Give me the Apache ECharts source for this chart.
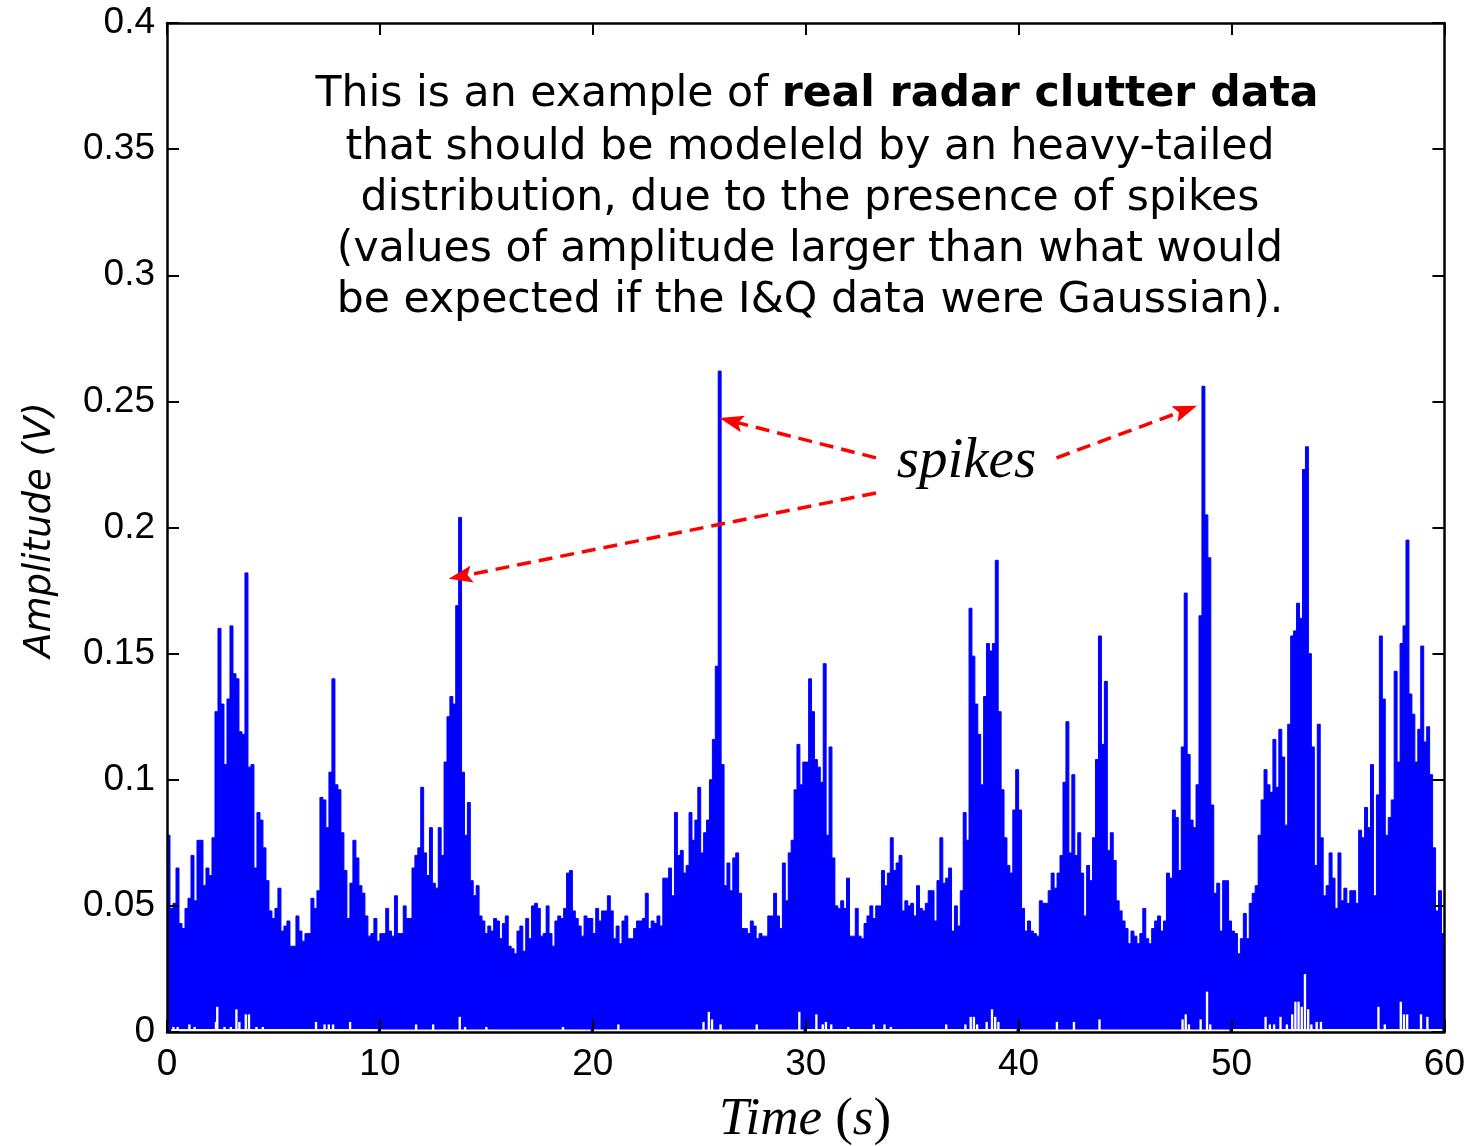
<!DOCTYPE html>
<html>
<head>
<meta charset="utf-8">
<script src="https://cdn.jsdelivr.net/npm/echarts@6/dist/echarts.min.js"></script>
<style>
  html, body { margin: 0; padding: 0; background: #ffffff; }
  #chart { width: 1468px; height: 1146px; }
</style>
</head>
<body>
<div id="chart"></div>
<script>
// Radar clutter amplitude (V): per-column peak amplitude, one array per 10 s span
const peaks0to10 = [0.078,0.049,0.051,0.065,0.043,0.041,0.049,0.053,0.070,0.052,0.076,0.076,0.058,0.065,0.062,0.077,0.127,0.160,0.130,0.106,0.132,0.161,0.142,0.140,0.119,0.118,0.182,0.105,0.106,0.065,0.087,0.084,0.073,0.060,0.048,0.045,0.049,0.057,0.040,0.042,0.044,0.034,0.034,0.046,0.040,0.036,0.039,0.039,0.053,0.049,0.056,0.093,0.092,0.081,0.103,0.140,0.098,0.096,0.079,0.064,0.045,0.059,0.076,0.069,0.058,0.055,0.046,0.038,0.039,0.045,0.036];
const peaks10to20 = [0.039,0.039,0.049,0.040,0.038,0.054,0.039,0.039,0.050,0.045,0.045,0.065,0.070,0.073,0.097,0.071,0.062,0.081,0.059,0.057,0.081,0.070,0.107,0.125,0.133,0.130,0.169,0.204,0.103,0.078,0.091,0.060,0.054,0.058,0.046,0.044,0.039,0.042,0.040,0.045,0.044,0.037,0.043,0.046,0.034,0.033,0.031,0.040,0.042,0.032,0.045,0.037,0.050,0.051,0.049,0.038,0.039,0.050,0.039,0.034,0.044,0.046,0.045,0.049,0.063,0.064,0.048,0.045,0.042,0.038,0.046,0.045,0.045];
const peaks20to30 = [0.039,0.049,0.044,0.048,0.048,0.054,0.048,0.037,0.042,0.035,0.044,0.046,0.037,0.037,0.041,0.044,0.044,0.045,0.055,0.041,0.044,0.043,0.046,0.042,0.061,0.061,0.065,0.054,0.087,0.070,0.072,0.063,0.066,0.087,0.076,0.084,0.097,0.071,0.079,0.084,0.100,0.116,0.145,0.262,0.106,0.058,0.067,0.056,0.069,0.071,0.055,0.041,0.041,0.039,0.044,0.042,0.037,0.039,0.038,0.038,0.046,0.046,0.055,0.046,0.041,0.067,0.052,0.071,0.076,0.096,0.114,0.098,0.107];
const peaks30to40 = [0.107,0.140,0.127,0.108,0.105,0.099,0.146,0.078,0.113,0.069,0.050,0.049,0.052,0.049,0.061,0.038,0.038,0.049,0.038,0.037,0.043,0.046,0.050,0.045,0.050,0.050,0.064,0.058,0.063,0.077,0.064,0.067,0.070,0.048,0.052,0.050,0.051,0.046,0.058,0.049,0.048,0.051,0.056,0.056,0.044,0.060,0.077,0.059,0.061,0.065,0.040,0.050,0.042,0.056,0.087,0.076,0.168,0.149,0.130,0.118,0.098,0.133,0.154,0.151,0.154,0.187,0.127,0.096,0.077,0.066,0.063,0.088,0.104];
const peaks40to50 = [0.088,0.049,0.040,0.044,0.040,0.039,0.038,0.052,0.051,0.051,0.056,0.063,0.057,0.063,0.070,0.099,0.123,0.071,0.102,0.070,0.079,0.063,0.046,0.066,0.060,0.077,0.108,0.157,0.114,0.139,0.072,0.079,0.068,0.052,0.048,0.044,0.041,0.035,0.040,0.038,0.035,0.039,0.049,0.037,0.035,0.041,0.044,0.046,0.040,0.044,0.063,0.061,0.088,0.085,0.064,0.113,0.174,0.110,0.084,0.081,0.098,0.165,0.256,0.205,0.188,0.090,0.055,0.059,0.040,0.060,0.060,0.044];
const peaks50to60 = [0.040,0.039,0.031,0.037,0.047,0.037,0.051,0.055,0.058,0.078,0.092,0.104,0.098,0.095,0.116,0.097,0.120,0.109,0.082,0.122,0.157,0.159,0.170,0.164,0.223,0.232,0.150,0.113,0.066,0.122,0.077,0.054,0.058,0.071,0.061,0.049,0.071,0.052,0.057,0.051,0.056,0.056,0.051,0.080,0.077,0.089,0.081,0.106,0.054,0.094,0.157,0.132,0.078,0.085,0.092,0.143,0.107,0.154,0.161,0.195,0.134,0.126,0.107,0.120,0.153,0.115,0.121,0.102,0.073,0.048,0.056,0.039];
const peakSegments = [peaks0to10, peaks10to20, peaks20to30, peaks30to40, peaks40to50, peaks50to60];

// Minimum amplitude within a column where it clearly lifts off zero: [time s, volts]
const floorNotches = [
  [0.3,0.002],[0.5,0.002],[1.05,0.003],[1.3,0.002],[2.3,0.004],[2.36,0.010],[2.7,0.002],[3.0,0.002],
  [3.26,0.009],[3.4,0.004],[3.7,0.007],[3.85,0.007],[4.2,0.002],[4.5,0.002],[7.0,0.004],[7.4,0.003],
  [7.6,0.003],[7.8,0.003],[8.6,0.004],[11.7,0.003],[12.5,0.003],[13.75,0.006],[14.0,0.002],[15.0,0.002],
  [18.6,0.002],[21.2,0.003],[25.2,0.004],[25.45,0.008],[25.6,0.005],[26.0,0.003],[27.7,0.003],[29.7,0.008],
  [30.5,0.007],[30.8,0.003],[30.95,0.004],[31.2,0.003],[32.0,0.002],[33.2,0.003],[33.7,0.003],[34.0,0.002],
  [36.6,0.003],[37.5,0.003],[37.75,0.006],[37.9,0.006],[38.05,0.003],[38.5,0.004],[38.75,0.009],[38.9,0.006],
  [39.05,0.004],[41.8,0.004],[42.6,0.004],[43.8,0.005],[47.7,0.005],[47.85,0.007],[48.0,0.003],[48.55,0.005],
  [48.85,0.016],[49.0,0.003],[51.6,0.006],[51.8,0.003],[52.0,0.003],[52.3,0.006],[52.6,0.003],[52.85,0.007],
  [53.0,0.012],[53.15,0.012],[53.3,0.010],[53.45,0.023],[53.6,0.009],[53.75,0.003],[54.0,0.004],[54.2,0.004],
  [56.9,0.010],[57.2,0.003],[57.95,0.012],[58.1,0.007],[58.25,0.007],[58.9,0.007],[59.2,0.006]
];
// Thin band where the signal rarely reaches zero: [start s, end s, volts]
const floorBand = [[0.2,9.9,0.0012],[10.0,19.9,0.0010],[20.0,29.9,0.0010],[30.0,39.9,0.0012],[40.0,49.9,0.0010],[50.0,59.9,0.0012]];

const xTickLabels = ['0','10','20','30','40','50','60'];
const yTickLabels = ['0','0.05','0.1','0.15','0.2','0.25','0.3','0.35','0.4'];

// Annotation: arrows from the "spikes" label to the three largest spikes, in data coordinates
const spikeArrows = [
  [[33.30, 0.2276], [26.50, 0.2422]],
  [[33.30, 0.2137], [13.78, 0.1806]],
  [[41.78, 0.2276], [47.85, 0.2466]]
];
const spikeLabelAt = [37.55, 0.2258];

const noteLines = [
  'that should be modeleld by an heavy-tailed',
  'distribution, due to the presence of spikes',
  '(values of amplitude larger than what would',
  'be expected if the I&Q data were Gaussian).'
];

// Build the stepped envelope: each column spans its share of the 10 s window
const envelope = [];
peakSegments.forEach((seg, k) => {
  const dt = 10 / seg.length;
  seg.forEach((v, i) => envelope.push([k * 10 + i * dt, v]));
});
envelope.push([60, envelope[envelope.length - 1][1]]);

const floorRects = floorBand.map(b => [b[0], b[1], b[2]])
  .concat(floorNotches.map(n => [n[0] - 0.055, n[0] + 0.055, n[1]]));

const chart = echarts.init(document.getElementById('chart'), null, { renderer: 'canvas' });

const axisLabelStyle = { color: '#000', fontFamily: 'Liberation Sans', fontSize: 37 };
const frameLine = { show: true, onZero: false, lineStyle: { color: '#000', width: 2.5 } };
const frameTick = { show: true, inside: true, length: 12, lineStyle: { color: '#000', width: 2 } };

chart.setOption({
  animation: false,
  backgroundColor: '#ffffff',
  grid: { left: 167, right: 20, top: 23, bottom: 114 },
  xAxis: [
    {
      type: 'value', position: 'bottom', min: 0, max: 60, interval: 10, z: 10,
      axisLine: frameLine, axisTick: frameTick, splitLine: { show: false },
      axisLabel: Object.assign({ margin: 14, formatter: v => xTickLabels[Math.round(v / 10)] }, axisLabelStyle)
    },
    {
      type: 'value', position: 'top', min: 0, max: 60, interval: 10, z: 10,
      axisLine: frameLine, axisTick: frameTick, splitLine: { show: false }, axisLabel: { show: false }
    }
  ],
  yAxis: [
    {
      type: 'value', position: 'left', min: 0, max: 0.4, interval: 0.05, z: 10,
      axisLine: frameLine, axisTick: frameTick, splitLine: { show: false },
      axisLabel: Object.assign({ margin: 12, formatter: v => yTickLabels[Math.round(v / 0.05)] }, axisLabelStyle)
    },
    {
      type: 'value', position: 'right', min: 0, max: 0.4, interval: 0.05, z: 10,
      axisLine: frameLine, axisTick: frameTick, splitLine: { show: false }, axisLabel: { show: false }
    }
  ],
  series: [
    {
      name: 'Amplitude', type: 'line', step: 'end', data: envelope,
      symbol: 'none', sampling: null, z: 2,
      lineStyle: { color: '#0000ff', width: 1 },
      areaStyle: { color: '#0000ff', opacity: 1 },
      markLine: {
        silent: true, animation: false,
        symbol: ['none', 'path://M5,0 L10,15 L5,12 L0,15 Z'],
        symbolSize: [17, 24],
        label: { show: false },
        lineStyle: { color: '#ff0000', width: 3.5, type: [14, 8] },
        data: spikeArrows.map(a => [{ coord: a[0] }, { coord: a[1] }])
      },
      markPoint: {
        silent: true, animation: false,
        symbol: 'circle', symbolSize: 0,
        data: [{ name: 'spikes', coord: spikeLabelAt }],
        label: {
          show: true, position: 'inside', formatter: '{b}', color: '#000',
          fontFamily: 'Liberation Serif', fontStyle: 'italic', fontSize: 57
        }
      }
    },
    {
      name: 'Floor', type: 'custom', z: 3, clip: true,
      data: floorRects,
      encode: { x: [0, 1], y: 2 },
      renderItem: (params, api) => {
        const p0 = api.coord([api.value(0), api.value(2)]);
        const p1 = api.coord([api.value(1), 0]);
        return {
          type: 'rect',
          shape: { x: p0[0], y: p0[1], width: p1[0] - p0[0], height: p1[1] - p0[1] },
          style: { fill: '#ffffff' }
        };
      }
    }
  ],
  graphic: [
    {
      type: 'text', x: 817, y: 95, z: 20,
      style: {
        text: '{n|This is an example of }{b|real radar clutter data}',
        align: 'center', verticalAlign: 'middle',
        rich: {
          n: { fontFamily: 'DejaVu Sans', fontSize: 42.6, fill: '#000', color: '#000' },
          b: { fontFamily: 'DejaVu Sans', fontSize: 42.6, fontWeight: 'bold', fill: '#000', color: '#000' }
        }
      }
    }
  ].concat(noteLines.map((line, i) => ({
    type: 'text', x: 810, y: 147.5 + i * 51.2, z: 20,
    style: {
      text: line, align: 'center', verticalAlign: 'middle',
      fontFamily: 'DejaVu Sans', fontSize: 42.6, fill: '#000'
    }
  }))).concat([
    {
      type: 'text', x: 40, y: 530, rotation: Math.PI / 2, z: 20,
      style: {
        text: 'Amplitude (V)', align: 'center', verticalAlign: 'middle',
        fontFamily: 'DejaVu Sans', fontStyle: 'italic', fontSize: 37, fill: '#000'
      }
    },
    {
      type: 'text', x: 805, y: 1120, z: 20,
      style: {
        text: '{i|Time }{r|(}{i|s}{r|)}',
        align: 'center', verticalAlign: 'middle',
        rich: {
          i: { fontFamily: 'Liberation Serif', fontStyle: 'italic', fontSize: 53, fill: '#000', color: '#000' },
          r: { fontFamily: 'Liberation Serif', fontSize: 53, fill: '#000', color: '#000' }
        }
      }
    }
  ])
});
</script>
</body>
</html>
